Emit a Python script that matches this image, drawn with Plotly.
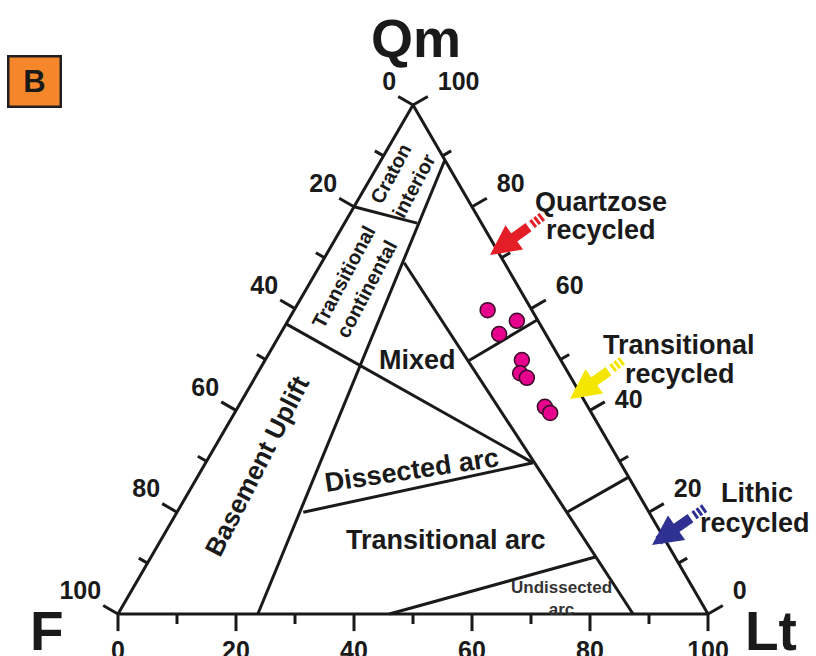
import math
import plotly.graph_objects as go

# ---------------- data ----------------
# sample points (Qm, F, Lt in %)
qm_pts = [59.7, 57.6, 55.0, 49.9, 47.3, 46.4, 40.7, 39.5]
f_pts = [7.5, 3.6, 7.9, 6.6, 8.2, 7.5, 7.3, 7.0]
lt_pts = [32.8, 38.8, 37.1, 43.5, 44.5, 46.1, 52.0, 53.5]

# triangle corners Qm, F, Lt (closed)
corner_qm = [100, 0, 0, 100]
corner_f = [0, 100, 0, 0]
corner_lt = [0, 0, 100, 0]

# provenance field boundaries: start / end (Qm, F, Lt)
boundary_qm = [[80, 76.8], [89.2, 0], [57, 29.7], [69, 0], [20, 29.7], [0, 11.2], [49.7, 57.8], [20, 26.9]]
boundary_f = [[20, 10.9], [0, 76.3], [43, 14.8], [17, 12.7], [58.6, 14.8], [54, 13.5], [15.8, 0], [13.9, 0]]
boundary_lt = [[0, 12.3], [10.8, 23.7], [0, 55.5], [14, 87.3], [21.4, 55.5], [46, 75.3], [34.5, 42.2], [66.1, 73.1]]

major_ticks = [0, 20, 40, 60, 80, 100]
minor_ticks = [10, 30, 50, 70, 90]
tick_labels = ["0", "20", "40", "60", "80", "100"]

# ---------------- styling ----------------
W, H = 816, 656
FONT = "Liberation Sans, Arial, sans-serif"
INK = "#1a1a1a"
PX_X = 5.9            # pixels per ternary unit (horizontal)
PX_Y = 509 / 86.6025  # pixels per ternary unit (vertical)
X0_PX, Y0_PX = 118, 614  # pixel position of the F corner
MAJOR_LEN = 2.9   # ~17 px
MINOR_LEN = 1.7   # ~10 px
S3 = math.sqrt(3) / 2
# extra label shift (pixels) per side
LABEL_SHIFT = {"left": (-2, 0), "bottom": (0, 9), "right": (10, 0)}


def to_xy(a, b, c):
    return c + a / 2, a * S3


def P(x, y):
    return x / W, 1 - y / H


fig = go.Figure()


def line_trace(A, B, C, width=3):
    xs, ys = [], []
    for a, b, c in zip(A, B, C):
        x, y = to_xy(a, b, c)
        xs.append(x); ys.append(y)
    fig.add_trace(go.Scatter(x=xs, y=ys, mode="lines", line=dict(color=INK, width=width),
                             hoverinfo="skip", showlegend=False, cliponaxis=False))


# triangle frame
line_trace(corner_qm, corner_f, corner_lt)

# field boundaries
for qa, fb, lc in zip(boundary_qm, boundary_f, boundary_lt):
    line_trace(qa, fb, lc)

# ---- ticks perpendicular to each edge, pointing outward ----
NORMALS = {"left": (-S3, 0.5), "bottom": (0.0, -1.0), "right": (S3, 0.5)}


def edge_point(side, v):
    if side == "left":      # F scale on the Qm-F edge
        return to_xy(100 - v, v, 0)
    if side == "bottom":    # Lt scale on the F-Lt edge
        return to_xy(0, 100 - v, v)
    return to_xy(v, 0, 100 - v)  # Qm scale on the Qm-Lt edge


sy = PX_X / PX_Y
for side in ["left", "bottom", "right"]:
    nx, ny = NORMALS[side]
    for vals, d in [(major_ticks, MAJOR_LEN), (minor_ticks, MINOR_LEN)]:
        xs, ys = [], []
        for v in vals:
            x, y = edge_point(side, v)
            xs += [x, x + nx * d, None]
            ys += [y, y + ny * d * sy, None]
        fig.add_trace(go.Scatter(x=xs, y=ys, mode="lines", line=dict(color=INK, width=3),
                                 hoverinfo="skip", showlegend=False, cliponaxis=False))
    dxp, dyp = LABEL_SHIFT[side]
    lx, ly = [], []
    for v in major_ticks:
        x, y = edge_point(side, v)
        lx.append(x + nx * MAJOR_LEN + dxp / PX_X)
        ly.append(y + ny * MAJOR_LEN * sy - dyp / PX_Y)
    if side == "left":
        pos = ["top left"] * len(major_ticks)
    elif side == "bottom":
        pos = ["bottom center"] * len(major_ticks)
    else:
        pos = ["middle right" if v == 40 else "top right" for v in major_ticks]
    fig.add_trace(go.Scatter(x=lx, y=ly, mode="text", text=tick_labels, textposition=pos,
                             textfont=dict(family=FONT, size=25, color=INK, weight="bold"),
                             hoverinfo="skip", showlegend=False, cliponaxis=False))

# sample points
pts_xy = [to_xy(a, b, c) for a, b, c in zip(qm_pts, f_pts, lt_pts)]
fig.add_trace(go.Scatter(x=[p[0] for p in pts_xy], y=[p[1] for p in pts_xy], mode="markers",
                         marker=dict(size=15, color="#e6008c", line=dict(color="#3a0a2a", width=1.5)),
                         showlegend=False, cliponaxis=False))

fig.update_layout(
    width=W, height=H, margin=dict(l=0, r=0, t=0, b=0),
    paper_bgcolor="white", plot_bgcolor="white", showlegend=False,
    xaxis=dict(visible=False, range=[-X0_PX / PX_X, (W - X0_PX) / PX_X]),
    yaxis=dict(visible=False, range=[-(H - Y0_PX) / PX_Y, Y0_PX / PX_Y]),
)

ann = []


def label(text, x, y, size=27, angle=0, color=INK):
    px, py = P(x, y)
    ann.append(dict(x=px, y=py, xref="paper", yref="paper", text=text,
                    showarrow=False, textangle=angle, xanchor="center", yanchor="middle",
                    font=dict(family=FONT, size=size, color=color, weight="bold")))


label("Qm", 416, 38, size=54)
label("F", 47, 631, size=55)
label("Lt", 771, 631, size=55)

label("Craton<br>interior", 402, 180, size=20, angle=-62)
label("Transitional<br>continental", 355, 283, size=20, angle=-62)
label("Basement Uplift", 257, 466, size=26, angle=-63)
label("Mixed", 418, 360)
label("Dissected arc", 412, 470, angle=-8.5)
label("Transitional arc", 446, 540)
label("Undissected<br>arc", 561, 598, size=17, color="#333333")

label("Quartzose", 601, 202)
label("recycled", 601, 230)
label("Transitional", 679, 345)
label("recycled", 680, 374)
label("Lithic", 757, 493)
label("recycled", 755, 523)

# panel tag
bx, by = P(34, 81)
ann.append(dict(x=bx, y=by, xref="paper", yref="paper", text="B", showarrow=False,
                xanchor="center", yanchor="middle",
                width=48, height=46, bgcolor="#f6862a", bordercolor="#231f20", borderwidth=2.5,
                font=dict(family=FONT, size=31, color=INK, weight="bold")))

# arrows: head, body-end, stripe-end, colour
arrows = [
    ((490, 255), (530, 226), (543, 216), "#e41e26"),
    ((570, 399), (610, 370), (623, 360), "#f5e600"),
    ((652, 545), (692, 517), (706, 507), "#2e3192"),
]
shapes = []
for head, body, tail, col in arrows:
    hx, hy = P(*head)
    ann.append(dict(x=hx, y=hy, xref="paper", yref="paper", text="", showarrow=True,
                    ax=body[0] - head[0], ay=body[1] - head[1], arrowhead=2,
                    arrowsize=0.6, arrowwidth=10, arrowcolor=col, standoff=0))
    x0, y0 = P(body[0] + 2, body[1] - 1.5)
    x1, y1 = P(*tail)
    shapes.append(dict(type="line", xref="paper", yref="paper", x0=x0, y0=y0, x1=x1, y1=y1,
                       line=dict(color=col, width=9, dash="3px,2px")))

fig.update_layout(annotations=ann, shapes=shapes)

fig.write_html("out.html", config={"displayModeBar": False},
               post_script="document.body.style.margin='0';")
